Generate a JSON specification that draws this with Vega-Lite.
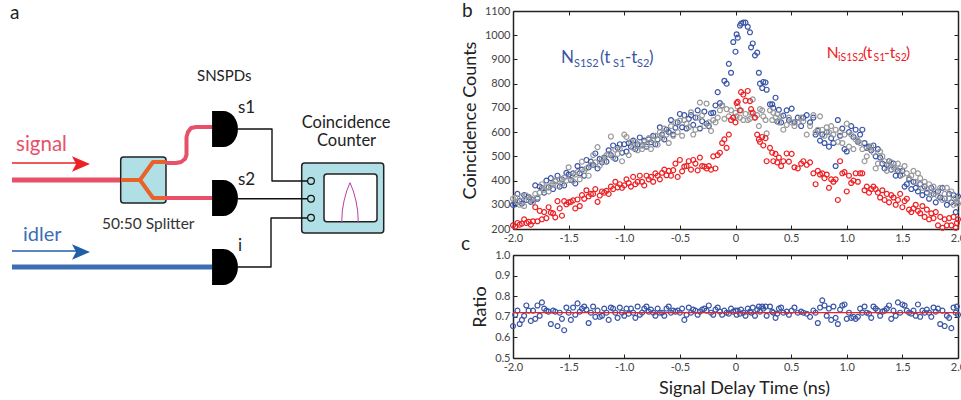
{"$schema":"https://vega.github.io/schema/vega-lite/v6.json","padding":{"left":0,"top":2,"right":0,"bottom":0},"background":"white","bounds":"flush","spacing":0,
"config":{"view":{"stroke":null},"font":"Lato","concat":{"spacing":0}},
"datasets":{
"obs":[
{"t":-2,"a":300,"g":325,"r":215,"q":0.655},{"t":-1.98,"a":302,"g":330,"r":210,"q":0.71},{"t":-1.96,"a":345,"g":312,"r":225,"q":0.73},{"t":-1.94,"a":315,"g":300,"r":218,"q":0.665},{"t":-1.92,"a":305,"g":335,"r":222,"q":0.685},{"t":-1.9,"a":340,"g":295,"r":240,"q":0.705},{"t":-1.88,"a":320,"g":338,"r":225,"q":0.755},{"t":-1.86,"a":332,"g":322,"r":230,"q":0.73},{"t":-1.84,"a":312,"g":326,"r":218,"q":0.68},{"t":-1.82,"a":320,"g":310,"r":232,"q":0.73},
{"t":-1.8,"a":380,"g":345,"r":290,"q":0.69},{"t":-1.78,"a":325,"g":330,"r":232,"q":0.755},{"t":-1.76,"a":375,"g":350,"r":275,"q":0.705},{"t":-1.74,"a":368,"g":385,"r":240,"q":0.77},{"t":-1.72,"a":350,"g":362,"r":270,"q":0.74},{"t":-1.7,"a":400,"g":372,"r":245,"q":0.73},{"t":-1.68,"a":372,"g":355,"r":290,"q":0.725},{"t":-1.66,"a":410,"g":380,"r":268,"q":0.665},{"t":-1.64,"a":365,"g":388,"r":265,"q":0.73},{"t":-1.62,"a":398,"g":400,"r":248,"q":0.725},
{"t":-1.6,"a":420,"g":378,"r":315,"q":0.655},{"t":-1.58,"a":375,"g":405,"r":285,"q":0.72},{"t":-1.56,"a":405,"g":385,"r":255,"q":0.69},{"t":-1.54,"a":380,"g":412,"r":315,"q":0.635},{"t":-1.52,"a":432,"g":400,"r":302,"q":0.745},{"t":-1.5,"a":425,"g":455,"r":310,"q":0.72},{"t":-1.48,"a":402,"g":418,"r":312,"q":0.685},{"t":-1.46,"a":430,"g":398,"r":318,"q":0.745},{"t":-1.44,"a":388,"g":425,"r":285,"q":0.71},{"t":-1.42,"a":460,"g":435,"r":322,"q":0.765},
{"t":-1.4,"a":430,"g":405,"r":295,"q":0.725},{"t":-1.38,"a":445,"g":478,"r":340,"q":0.74},{"t":-1.36,"a":420,"g":440,"r":325,"q":0.75},{"t":-1.34,"a":485,"g":450,"r":360,"q":0.735},{"t":-1.32,"a":455,"g":420,"r":335,"q":0.67},{"t":-1.3,"a":478,"g":465,"r":345,"q":0.72},{"t":-1.28,"a":465,"g":505,"r":345,"q":0.75},{"t":-1.26,"a":512,"g":475,"r":365,"q":0.7},{"t":-1.24,"a":450,"g":538,"r":312,"q":0.73},{"t":-1.22,"a":490,"g":462,"r":338,"q":0.7},
{"t":-1.2,"a":475,"g":490,"r":355,"q":0.705},{"t":-1.18,"a":495,"g":480,"r":350,"q":0.74},{"t":-1.16,"a":478,"g":505,"r":358,"q":0.72},{"t":-1.14,"a":525,"g":510,"r":345,"q":0.685},{"t":-1.12,"a":505,"g":582,"r":375,"q":0.745},{"t":-1.1,"a":545,"g":495,"r":365,"q":0.74},{"t":-1.08,"a":490,"g":528,"r":395,"q":0.72},{"t":-1.06,"a":535,"g":510,"r":372,"q":0.695},{"t":-1.04,"a":550,"g":530,"r":385,"q":0.745},{"t":-1.02,"a":515,"g":480,"r":370,"q":0.72},
{"t":-1,"a":550,"g":590,"r":380,"q":0.705},{"t":-0.98,"a":520,"g":580,"r":405,"q":0.74},{"t":-0.96,"a":555,"g":505,"r":390,"q":0.715},{"t":-0.94,"a":540,"g":560,"r":375,"q":0.74},{"t":-0.92,"a":565,"g":535,"r":415,"q":0.72},{"t":-0.9,"a":530,"g":560,"r":385,"q":0.695},{"t":-0.88,"a":550,"g":525,"r":395,"q":0.75},{"t":-0.86,"a":578,"g":545,"r":420,"q":0.71},{"t":-0.84,"a":545,"g":530,"r":395,"q":0.72},{"t":-0.82,"a":565,"g":560,"r":380,"q":0.74},
{"t":-0.8,"a":540,"g":550,"r":420,"q":0.75},{"t":-0.78,"a":570,"g":575,"r":405,"q":0.725},{"t":-0.76,"a":558,"g":530,"r":415,"q":0.735},{"t":-0.74,"a":585,"g":565,"r":395,"q":0.72},{"t":-0.72,"a":550,"g":585,"r":430,"q":0.705},{"t":-0.7,"a":570,"g":548,"r":420,"q":0.74},{"t":-0.68,"a":620,"g":600,"r":405,"q":0.72},{"t":-0.66,"a":590,"g":575,"r":432,"q":0.72},{"t":-0.64,"a":570,"g":615,"r":445,"q":0.705},{"t":-0.62,"a":610,"g":590,"r":422,"q":0.74},
{"t":-0.6,"a":600,"g":555,"r":440,"q":0.75},{"t":-0.58,"a":650,"g":625,"r":420,"q":0.72},{"t":-0.56,"a":590,"g":585,"r":443,"q":0.73},{"t":-0.54,"a":618,"g":640,"r":470,"q":0.725},{"t":-0.52,"a":640,"g":600,"r":415,"q":0.73},{"t":-0.5,"a":675,"g":648,"r":485,"q":0.72},{"t":-0.48,"a":620,"g":585,"r":438,"q":0.74},{"t":-0.46,"a":670,"g":650,"r":458,"q":0.685},{"t":-0.44,"a":615,"g":635,"r":460,"q":0.71},{"t":-0.42,"a":655,"g":620,"r":480,"q":0.745},
{"t":-0.4,"a":670,"g":682,"r":445,"q":0.72},{"t":-0.38,"a":630,"g":590,"r":485,"q":0.735},{"t":-0.36,"a":660,"g":610,"r":470,"q":0.73},{"t":-0.34,"a":690,"g":660,"r":442,"q":0.71},{"t":-0.32,"a":615,"g":722,"r":495,"q":0.725},{"t":-0.3,"a":645,"g":670,"r":460,"q":0.735},{"t":-0.28,"a":685,"g":625,"r":458,"q":0.74},{"t":-0.26,"a":635,"g":718,"r":450,"q":0.73},{"t":-0.24,"a":625,"g":640,"r":460,"q":0.755},{"t":-0.22,"a":678,"g":605,"r":445,"q":0.72},
{"t":-0.2,"a":680,"g":650,"r":500,"q":0.71},{"t":-0.18,"a":710,"g":640,"r":450,"q":0.735},{"t":-0.16,"a":765,"g":660,"r":505,"q":0.745},{"t":-0.14,"a":720,"g":690,"r":515,"q":0.725},{"t":-0.12,"a":710,"g":710,"r":555,"q":0.71},{"t":-0.1,"a":812,"g":655,"r":570,"q":0.73},{"t":-0.08,"a":800,"g":695,"r":535,"q":0.72},{"t":-0.06,"a":882,"g":665,"r":590,"q":0.715},{"t":-0.04,"a":845,"g":690,"r":650,"q":0.74},{"t":-0.02,"a":972,"g":660,"r":660,"q":0.725},
{"t":0,"a":932,"g":680,"r":640,"q":0.73},{"t":0.01,"a":1004,"g":665,"r":720,"q":0.71},{"t":0.02,"a":990,"g":705,"r":725,"q":0.73},{"t":0.04,"a":1040,"g":660,"r":690,"q":0.715},{"t":0.05,"a":1048,"g":690,"r":765,"q":0.735},{"t":0.07,"a":1052,"g":650,"r":755,"q":0.72},{"t":0.09,"a":1052,"g":675,"r":730,"q":0.705},{"t":0.11,"a":1035,"g":650,"r":770,"q":0.74},{"t":0.13,"a":1012,"g":655,"r":728,"q":0.725},{"t":0.14,"a":950,"g":680,"r":695,"q":0.72},
{"t":0.155,"a":966,"g":735,"r":680,"q":0.745},{"t":0.175,"a":917,"g":660,"r":660,"q":0.705},{"t":0.195,"a":928,"g":670,"r":590,"q":0.735},{"t":0.21,"a":845,"g":625,"r":570,"q":0.75},{"t":0.22,"a":800,"g":695,"r":560,"q":0.725},{"t":0.24,"a":782,"g":690,"r":580,"q":0.75},{"t":0.25,"a":807,"g":665,"r":545,"q":0.74},{"t":0.27,"a":805,"g":650,"r":575,"q":0.75},{"t":0.28,"a":775,"g":595,"r":480,"q":0.705},{"t":0.31,"a":715,"g":690,"r":535,"q":0.75},
{"t":0.33,"a":715,"g":650,"r":515,"q":0.725},{"t":0.34,"a":700,"g":680,"r":480,"q":0.72},{"t":0.36,"a":742,"g":660,"r":510,"q":0.695},{"t":0.375,"a":644,"g":675,"r":475,"q":0.715},{"t":0.39,"a":692,"g":640,"r":495,"q":0.74},{"t":0.41,"a":640,"g":665,"r":460,"q":0.745},{"t":0.43,"a":668,"g":610,"r":480,"q":0.72},{"t":0.46,"a":690,"g":630,"r":512,"q":0.725},{"t":0.48,"a":650,"g":660,"r":478,"q":0.71},{"t":0.505,"a":697,"g":640,"r":510,"q":0.73},
{"t":0.53,"a":640,"g":625,"r":455,"q":0.745},{"t":0.56,"a":660,"g":640,"r":450,"q":0.72},{"t":0.59,"a":625,"g":660,"r":470,"q":0.725},{"t":0.61,"a":660,"g":645,"r":480,"q":0.72},{"t":0.64,"a":670,"g":590,"r":465,"q":0.715},{"t":0.67,"a":640,"g":625,"r":475,"q":0.7},{"t":0.7,"a":660,"g":670,"r":430,"q":0.73},{"t":0.72,"a":590,"g":600,"r":385,"q":0.72},{"t":0.74,"a":605,"g":610,"r":440,"q":0.67},{"t":0.76,"a":565,"g":665,"r":425,"q":0.745},
{"t":0.78,"a":590,"g":610,"r":430,"q":0.78},{"t":0.8,"a":555,"g":585,"r":410,"q":0.755},{"t":0.82,"a":600,"g":620,"r":425,"q":0.705},{"t":0.84,"a":540,"g":600,"r":370,"q":0.74},{"t":0.86,"a":575,"g":625,"r":405,"q":0.685},{"t":0.88,"a":555,"g":590,"r":395,"q":0.75},{"t":0.9,"a":460,"g":610,"r":405,"q":0.695},{"t":0.92,"a":650,"g":560,"r":320,"q":0.665},{"t":0.94,"a":585,"g":600,"r":480,"q":0.735},{"t":0.96,"a":615,"g":555,"r":430,"q":0.755},
{"t":0.98,"a":530,"g":590,"r":435,"q":0.76},{"t":1,"a":520,"g":635,"r":355,"q":0.69},{"t":1.02,"a":600,"g":540,"r":420,"q":0.72},{"t":1.04,"a":625,"g":590,"r":390,"q":0.695},{"t":1.06,"a":580,"g":530,"r":400,"q":0.7},{"t":1.08,"a":610,"g":570,"r":430,"q":0.69},{"t":1.1,"a":560,"g":565,"r":395,"q":0.7},{"t":1.12,"a":590,"g":555,"r":430,"q":0.74},{"t":1.14,"a":610,"g":530,"r":430,"q":0.72},{"t":1.16,"a":555,"g":480,"r":360,"q":0.75},
{"t":1.18,"a":535,"g":500,"r":375,"q":0.72},{"t":1.2,"a":540,"g":535,"r":350,"q":0.715},{"t":1.22,"a":525,"g":540,"r":365,"q":0.695},{"t":1.24,"a":545,"g":515,"r":375,"q":0.75},{"t":1.26,"a":500,"g":450,"r":365,"q":0.74},{"t":1.28,"a":530,"g":470,"r":350,"q":0.73},{"t":1.3,"a":495,"g":520,"r":330,"q":0.705},{"t":1.32,"a":470,"g":500,"r":360,"q":0.725},{"t":1.34,"a":450,"g":480,"r":320,"q":0.73},{"t":1.36,"a":465,"g":440,"r":345,"q":0.74},
{"t":1.38,"a":480,"g":465,"r":310,"q":0.755},{"t":1.4,"a":445,"g":475,"r":340,"q":0.69},{"t":1.42,"a":470,"g":455,"r":330,"q":0.73},{"t":1.44,"a":420,"g":445,"r":300,"q":0.705},{"t":1.46,"a":440,"g":470,"r":320,"q":0.77},{"t":1.48,"a":420,"g":450,"r":345,"q":0.72},{"t":1.5,"a":440,"g":425,"r":290,"q":0.76},{"t":1.52,"a":375,"g":460,"r":315,"q":0.755},{"t":1.54,"a":385,"g":430,"r":325,"q":0.73},{"t":1.56,"a":405,"g":410,"r":280,"q":0.72},
{"t":1.58,"a":365,"g":420,"r":270,"q":0.715},{"t":1.6,"a":395,"g":440,"r":285,"q":0.73},{"t":1.62,"a":370,"g":395,"r":300,"q":0.705},{"t":1.64,"a":355,"g":430,"r":275,"q":0.76},{"t":1.66,"a":385,"g":410,"r":265,"q":0.7},{"t":1.68,"a":340,"g":370,"r":295,"q":0.73},{"t":1.7,"a":375,"g":395,"r":250,"q":0.72},{"t":1.72,"a":350,"g":365,"r":280,"q":0.735},{"t":1.74,"a":325,"g":385,"r":240,"q":0.72},{"t":1.76,"a":370,"g":340,"r":265,"q":0.7},
{"t":1.78,"a":345,"g":375,"r":245,"q":0.745},{"t":1.8,"a":310,"g":355,"r":270,"q":0.725},{"t":1.82,"a":355,"g":335,"r":215,"q":0.74},{"t":1.84,"a":330,"g":370,"r":250,"q":0.665},{"t":1.86,"a":370,"g":320,"r":205,"q":0.73},{"t":1.88,"a":325,"g":345,"r":240,"q":0.655},{"t":1.9,"a":300,"g":370,"r":215,"q":0.705},{"t":1.92,"a":345,"g":325,"r":245,"q":0.695},{"t":1.94,"a":310,"g":355,"r":215,"q":0.645},{"t":1.96,"a":340,"g":300,"r":250,"q":0.745},
{"t":1.98,"a":270,"g":330,"r":205,"q":0.72},{"t":1.99,"a":310,"g":315,"r":225,"q":0.75},{"t":2,"a":335,"g":305,"r":240,"q":0.71}
],
"fit":[{"t":-2,"q":0.72},{"t":2,"q":0.72}],
"paths":[
{"p":"signal","role":"signal","i":0,"x":12,"y":179},{"p":"signal","role":"signal","i":1,"x":120,"y":179},
{"p":"up","role":"signal2","i":0,"x":166,"y":162},{"p":"up","role":"signal2","i":1,"x":176,"y":162},{"p":"up","role":"signal2","i":2,"x":181,"y":161},{"p":"up","role":"signal2","i":3,"x":185,"y":158},{"p":"up","role":"signal2","i":4,"x":186.5,"y":154},{"p":"up","role":"signal2","i":5,"x":186.5,"y":136},{"p":"up","role":"signal2","i":6,"x":188,"y":131},{"p":"up","role":"signal2","i":7,"x":191,"y":127},{"p":"up","role":"signal2","i":8,"x":196,"y":126},{"p":"up","role":"signal2","i":9,"x":212,"y":126},
{"p":"low","role":"signal2","i":0,"x":166,"y":197},{"p":"low","role":"signal2","i":1,"x":212,"y":197},
{"p":"idler","role":"idler","i":0,"x":12,"y":266},{"p":"idler","role":"idler","i":1,"x":212,"y":266},
{"p":"o1","role":"orange","i":0,"x":121,"y":179},{"p":"o1","role":"orange","i":1,"x":140,"y":179},{"p":"o1","role":"orange","i":2,"x":153,"y":161},{"p":"o1","role":"orange","i":3,"x":166,"y":161},
{"p":"o2","role":"orange","i":0,"x":140,"y":179},{"p":"o2","role":"orange","i":1,"x":153,"y":197},{"p":"o2","role":"orange","i":2,"x":166,"y":197},
{"p":"w1","role":"wire","i":0,"x":238,"y":128},{"p":"w1","role":"wire","i":1,"x":272,"y":128},{"p":"w1","role":"wire","i":2,"x":272,"y":180},{"p":"w1","role":"wire","i":3,"x":308,"y":180},
{"p":"w2","role":"wire","i":0,"x":238,"y":197.7},{"p":"w2","role":"wire","i":1,"x":308,"y":197.7},
{"p":"w3","role":"wire","i":0,"x":238,"y":266},{"p":"w3","role":"wire","i":1,"x":271,"y":266},{"p":"w3","role":"wire","i":2,"x":271,"y":217},{"p":"w3","role":"wire","i":3,"x":308,"y":217},
{"p":"sa","role":"sarrow","i":0,"x":12,"y":162},{"p":"sa","role":"sarrow","i":1,"x":80,"y":162},
{"p":"ia","role":"iarrow","i":0,"x":12,"y":250},{"p":"ia","role":"iarrow","i":1,"x":80,"y":250},
{"p":"tr","role":"trace","i":0,"x":341.7,"y":222},{"p":"tr","role":"trace","i":1,"x":342.3,"y":210},{"p":"tr","role":"trace","i":2,"x":344,"y":200},{"p":"tr","role":"trace","i":3,"x":346.7,"y":190},{"p":"tr","role":"trace","i":4,"x":350,"y":181.7},{"p":"tr","role":"trace","i":5,"x":353.3,"y":190},{"p":"tr","role":"trace","i":6,"x":356,"y":200},{"p":"tr","role":"trace","i":7,"x":357.7,"y":210},{"p":"tr","role":"trace","i":8,"x":358.3,"y":222}],
"rects":[{"role":"box","x":120.7,"x2":166,"y":156,"y2":202},{"role":"box","x":301.7,"x2":383.7,"y":162,"y2":232},{"role":"screen","x":324,"x2":377,"y":173,"y2":220.7}],
"ports":[{"role":"box","x":311,"y":180},{"role":"box","x":311,"y":197.7},{"role":"box","x":311,"y":216.7}],
"dets":[{"role":"det","x":225,"y":128},{"role":"det","x":225,"y":197},{"role":"det","x":225,"y":266}],
"heads":[{"role":"sarrow","x":81,"y":163},{"role":"iarrow","x":81,"y":251}],
"labels":[
{"role":"panel","x":10,"y":18,"t":"a"},{"role":"panel","x":462,"y":16,"t":"b"},{"role":"panel","x":461,"y":249,"t":"c"},
{"role":"label","x":197,"y":80,"t":"SNSPDs"},{"role":"big","x":238,"y":112,"t":"s1"},{"role":"big","x":238,"y":184,"t":"s2"},{"role":"big","x":238,"y":250,"t":"i"},
{"role":"cc","x":301.7,"y":127,"t":"Coincidence"},{"role":"cc","x":317,"y":145,"t":"Counter"},
{"role":"split","x":102,"y":227.7,"t":"50:50 Splitter"},{"role":"sigt","x":16,"y":150,"t":"signal"},{"role":"idlt","x":23,"y":240,"t":"idler"},
{"role":"bN","x":561,"y":62,"t":"N"},{"role":"bS","x":574,"y":66,"t":"S1S2"},{"role":"bN","x":600,"y":62,"t":"(t"},{"role":"bS","x":613,"y":66,"t":"S1"},{"role":"bN","x":625,"y":62,"t":"-t"},{"role":"bS","x":637,"y":66,"t":"S2"},{"role":"bN","x":649,"y":62,"t":")"},
{"role":"rN","x":826.7,"y":57,"t":"N"},{"role":"rS","x":838,"y":60,"t":"iS1S2"},{"role":"rN","x":863,"y":57,"t":"(t"},{"role":"rS","x":873.5,"y":60,"t":"S1"},{"role":"rN","x":884,"y":57,"t":"-t"},{"role":"rS","x":895,"y":60,"t":"S2"},{"role":"rN","x":906,"y":57,"t":")"}]
},
"hconcat":[
{"width":513,"height":390,
"encoding":{"x":{"field":"x","type":"quantitative","axis":null,"scale":{"domain":[0,513],"nice":false,"zero":false}},"y":{"field":"y","type":"quantitative","axis":null,"scale":{"domain":[400,10],"nice":false,"zero":false}}},
"layer":[
{"data":{"name":"rects"},"mark":{"type":"rect","stroke":"#222","strokeWidth":1.5,"cornerRadius":3},"encoding":{"x2":{"field":"x2"},"y2":{"field":"y2"},"color":{"field":"role","type":"nominal","legend":null,"scale":{"domain":["signal","signal2","idler","orange","wire","sarrow","iarrow","trace","box","screen","det","panel","label","big","cc","split","sigt","idlt","bN","bS","rN","rS"],"range":["#e8506a","#e8506a","#3c6eb4","#e8622a","#111111","#ed2024","#1f5fa8","#b8419e","#b0dfe5","#ffffff","#000000","#222222","#222222","#222222","#222222","#333333","#e8506a","#3c6eb4","#3a55a5","#3a55a5","#ed2024","#ed2024"]}}}},
{"data":{"name":"paths"},"mark":{"type":"line","strokeJoin":"round"},"encoding":{"detail":{"field":"p"},"order":{"field":"i","type":"quantitative"},"color":{"field":"role","type":"nominal","legend":null},"strokeWidth":{"field":"role","type":"nominal","legend":null,"scale":{"type":"ordinal","domain":["signal","signal2","idler","orange","wire","sarrow","iarrow","trace"],"range":[5,4,5,4,1.4,1.5,1.5,1]}}}},
{"data":{"name":"ports"},"mark":{"type":"point","filled":true,"shape":"circle","size":45,"stroke":"#111","strokeWidth":1.2,"opacity":1},"encoding":{"fill":{"field":"role","type":"nominal","legend":null,"scale":{"domain":["box"],"range":["#b0dfe5"]}}}},
{"data":{"name":"dets"},"mark":{"type":"point","filled":true,"opacity":1,"size":1296,"shape":"M-0.72,-1 H-0.1 A0.82,1 0 0 1 -0.1,1 H-0.72 Z"},"encoding":{"color":{"field":"role","type":"nominal","legend":null}}},
{"data":{"name":"heads"},"mark":{"type":"point","filled":true,"opacity":1,"size":324,"shape":"M-1,-0.85 L1,0 L-1,0.85 L-0.55,0 Z"},"encoding":{"color":{"field":"role","type":"nominal","legend":null}}},
{"data":{"name":"labels"},"mark":{"type":"text","align":"left","baseline":"alphabetic","font":"Lato"},"encoding":{"text":{"field":"t"},"color":{"field":"role","type":"nominal","legend":null},"size":{"field":"role","type":"nominal","legend":null,"scale":{"type":"ordinal","domain":["panel","label","big","cc","split","sigt","idlt","bN","bS","rN","rS"],"range":[19,15,17,16.5,15.5,20.5,20,17,11,15.5,10.5]}}}}
]},
{"bounds":"flush","spacing":26,"vconcat":[
{"width":445,"height":218,"data":{"name":"obs"},
"resolve":{"axis":{"x":"independent","y":"independent"}},
"layer":[
{"mark":{"type":"point","size":24,"strokeWidth":1.2,"color":"#3a55a5","opacity":1},"encoding":{"x":{"field":"t","type":"quantitative","scale":{"domain":[-2,2],"nice":false,"zero":false},"axis":{"orient":"bottom","values":[-2,-1.5,-1,-0.5,0,0.5,1,1.5,2],"labelExpr":"datum.value<0?'-'+format(-datum.value,'.1f'):datum.value==0?'0':format(datum.value,'.1f')","title":null,"grid":false,"domainColor":"#222","domainWidth":1.5,"tickColor":"#222","tickSize":-4,"labelColor":"#444","labelFontSize":11,"labelPadding":7,"labelFlush":false}},"y":{"field":"a","type":"quantitative","scale":{"domain":[200,1100],"nice":false,"zero":false},"axis":{"orient":"left","values":[200,300,400,500,600,700,800,900,1000,1100],"format":"d","title":"Coincidence Counts","titleFontSize":18,"titleFontWeight":"normal","titleColor":"#222","titlePadding":5,"grid":false,"domainColor":"#222","domainWidth":1.5,"tickColor":"#222","tickSize":-4,"labelColor":"#444","labelFontSize":11,"labelPadding":7}}}},
{"mark":{"type":"point","size":24,"strokeWidth":1.2,"color":"#999999","opacity":1},"encoding":{"x":{"field":"t","type":"quantitative","axis":{"orient":"top","values":[-2,-1.5,-1,-0.5,0,0.5,1,1.5,2],"labels":false,"title":null,"grid":false,"domainColor":"#222","domainWidth":1.5,"tickColor":"#222","tickSize":-4}},"y":{"field":"g","type":"quantitative","axis":{"orient":"right","values":[200,300,400,500,600,700,800,900,1000,1100],"labels":false,"title":null,"grid":false,"domainColor":"#222","domainWidth":1.5,"tickColor":"#222","tickSize":-4}}}},
{"mark":{"type":"point","size":24,"strokeWidth":1.2,"color":"#ed2024","opacity":1},"encoding":{"x":{"field":"t","type":"quantitative","axis":null},"y":{"field":"r","type":"quantitative","axis":null}}}
]},
{"width":445,"height":103,"resolve":{"axis":{"x":"independent","y":"independent"}},
"layer":[
{"data":{"name":"obs"},"mark":{"type":"point","size":24,"strokeWidth":1.2,"color":"#3a55a5","opacity":1},"encoding":{"x":{"field":"t","type":"quantitative","scale":{"domain":[-2,2],"nice":false,"zero":false},"axis":{"orient":"bottom","values":[-2,-1.5,-1,-0.5,0,0.5,1,1.5,2],"labelExpr":"datum.value<0?'-'+format(-datum.value,'.1f'):datum.value==0?'0':format(datum.value,'.1f')","title":"Signal Delay Time (ns)","titleX":231,"titleFontSize":18,"titleFontWeight":"normal","titleColor":"#222","titlePadding":7,"grid":false,"domainColor":"#222","domainWidth":1.5,"tickColor":"#222","tickSize":-4,"labelColor":"#444","labelFontSize":11,"labelPadding":7,"labelFlush":false}},"y":{"field":"q","type":"quantitative","scale":{"domain":[0.5,1],"nice":false,"zero":false},"axis":{"orient":"left","values":[0.5,0.6,0.7,0.8,0.9,1],"format":".1f","title":"Ratio","titleFontSize":18,"titleFontWeight":"normal","titleColor":"#222","titlePadding":5,"grid":false,"domainColor":"#222","domainWidth":1.5,"tickColor":"#222","tickSize":-4,"labelColor":"#444","labelFontSize":11,"labelPadding":7}}}},
{"data":{"name":"fit"},"mark":{"type":"line","color":"#ed2024","strokeWidth":1.2},"encoding":{"x":{"field":"t","type":"quantitative","axis":{"orient":"top","values":[-2,-1.5,-1,-0.5,0,0.5,1,1.5,2],"labels":false,"title":null,"grid":false,"domainColor":"#222","domainWidth":1.5,"tickColor":"#222","tickSize":-4}},"y":{"field":"q","type":"quantitative","axis":{"orient":"right","values":[0.5,0.6,0.7,0.8,0.9,1],"labels":false,"title":null,"grid":false,"domainColor":"#222","domainWidth":1.5,"tickColor":"#222","tickSize":-4}}}}
]}
]}
]}
